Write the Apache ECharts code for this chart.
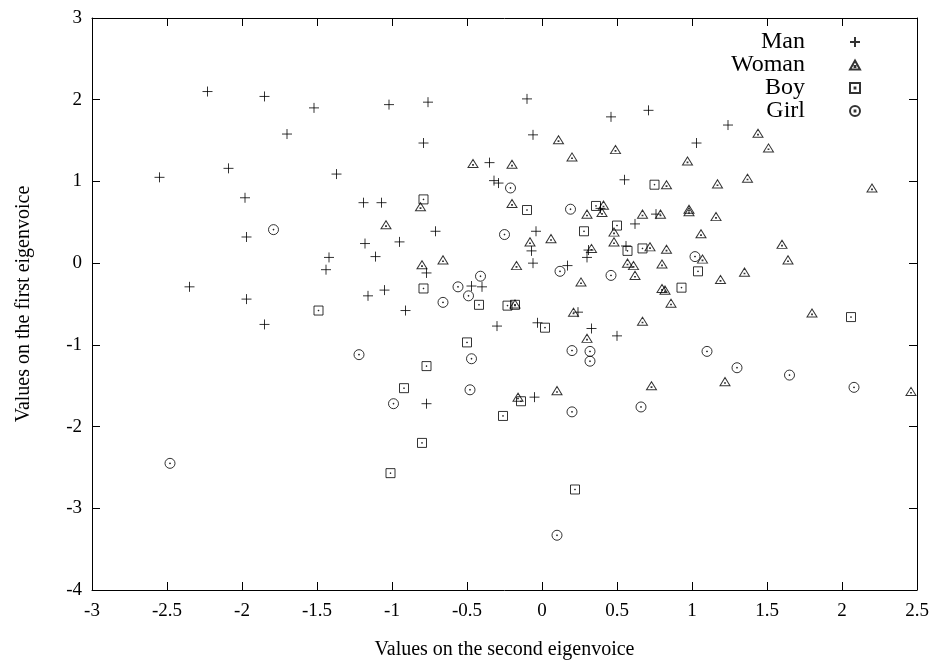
<!DOCTYPE html>
<html>
<head>
<meta charset="utf-8">
<script src="https://cdn.jsdelivr.net/npm/echarts@6/dist/echarts.min.js"></script>
<style>
  html, body { margin: 0; padding: 0; background: #fff; }
  #chart { width: 936px; height: 661px; }
</style>
</head>
<body>
<div id="chart"></div>
<script>
// points as [second eigenvoice, first eigenvoice]
const man = [
  [-2.23, 2.10], [-1.85, 2.04], [-1.52, 1.90], [-1.70, 1.58], [-2.55, 1.05],
  [-2.09, 1.16], [-1.98, 0.80], [-1.37, 1.09], [-1.19, 0.74], [-1.02, 1.94],
  [-0.76, 1.97], [-0.10, 2.01], [-0.79, 1.47], [0.46, 1.79], [-0.06, 1.57],
  [-0.35, 1.23], [-0.32, 1.01], [-0.29, 0.98], [0.55, 1.02], [-1.07, 0.74],
  [0.71, 1.87], [1.24, 1.69], [1.03, 1.47], [-1.97, 0.32], [-1.42, 0.07],
  [-1.44, -0.08], [-1.18, 0.24], [-2.35, -0.29], [-1.97, -0.44], [-1.85, -0.75],
  [-1.16, -0.40], [-0.71, 0.39], [-0.95, 0.26], [-1.11, 0.08], [-0.04, 0.39],
  [0.62, 0.48], [0.56, 0.21], [-0.07, 0.15], [0.31, 0.16], [0.30, 0.07],
  [-0.06, 0.00], [0.17, -0.03], [-0.77, -0.12], [-0.47, -0.28], [-0.40, -0.29],
  [-1.05, -0.33], [-0.91, -0.58], [-0.30, -0.77], [-0.03, -0.73], [0.24, -0.60],
  [0.33, -0.80], [0.50, -0.89], [-0.77, -1.72], [-0.05, -1.64], [0.76, 0.60],
  [0.39, 0.67]
];
const woman = [
  [0.11, 1.51], [0.20, 1.30], [0.49, 1.39], [-0.46, 1.22], [-0.20, 1.21],
  [-0.20, 0.73], [-0.81, 0.69], [0.41, 0.71], [1.44, 1.59], [1.51, 1.41],
  [0.97, 1.25], [0.83, 0.96], [1.17, 0.97], [1.37, 1.04], [2.20, 0.92],
  [0.98, 0.66], [0.30, 0.60], [0.40, 0.62], [-1.04, 0.47], [-0.08, 0.26],
  [0.06, 0.30], [0.48, 0.38], [0.48, 0.26], [0.33, 0.18], [-0.17, -0.03],
  [0.26, -0.23], [0.57, 0.00], [0.61, -0.03], [0.62, -0.15], [-0.80, -0.02],
  [-0.66, 0.04], [-0.18, -0.50], [0.21, -0.60], [0.30, -0.92], [0.67, -0.71],
  [0.10, -1.56], [-0.16, -1.64], [0.67, 0.60], [0.79, 0.60], [0.98, 0.63],
  [1.16, 0.57], [1.06, 0.36], [0.72, 0.20], [0.83, 0.17], [0.80, -0.01],
  [1.07, 0.05], [0.80, -0.31], [0.82, -0.33], [0.86, -0.49], [1.19, -0.20],
  [1.35, -0.11], [1.60, 0.23], [1.64, 0.04], [1.80, -0.61], [0.73, -1.50],
  [1.22, -1.45], [2.46, -1.57]
];
const boy = [
  [-0.79, 0.78], [-0.10, 0.65], [0.36, 0.70], [0.75, 0.96], [-1.49, -0.58],
  [0.28, 0.39], [0.50, 0.46], [0.57, 0.15], [0.67, 0.18], [1.04, -0.10],
  [0.93, -0.30], [-0.79, -0.31], [-0.42, -0.51], [-0.23, -0.52], [-0.18, -0.51],
  [0.02, -0.79], [2.06, -0.66], [-0.50, -0.97], [-0.77, -1.26], [-0.92, -1.53],
  [-0.14, -1.69], [-0.26, -1.87], [-0.80, -2.20], [-1.01, -2.57], [0.22, -2.77]
];
const girl = [
  [-0.21, 0.92], [0.19, 0.66], [-1.79, 0.41], [-1.22, -1.12], [-0.25, 0.35],
  [0.12, -0.10], [0.46, -0.15], [-0.41, -0.16], [-0.56, -0.29], [-0.49, -0.40],
  [-0.66, -0.48], [0.20, -1.07], [0.32, -1.08], [0.32, -1.20], [-0.47, -1.17],
  [-0.48, -1.55], [-0.99, -1.72], [0.20, -1.82], [0.66, -1.76], [0.10, -3.33],
  [-2.48, -2.45], [1.02, 0.08], [1.10, -1.08], [1.30, -1.28], [1.65, -1.37],
  [2.08, -1.52]
];

const xMin = -3, xMax = 2.5, xStep = 0.5;
const yMin = -4, yMax = 3, yStep = 1;

const font = 'Liberation Serif';

// gnuplot style point types (stroked paths)
const plusPath = 'path://M5,0V10M0,5H10';
const triPath = 'path://M5,0L10,9L0,9Z M4.6,5.6h0.8v0.8h-0.8Z';
const boxPath = 'path://M0,0H10V10H0Z M4.6,4.6h0.8v0.8h-0.8Z';
const circPath = 'path://M0,5A5,5 0 1,1 10,5A5,5 0 1,1 0,5Z M4.6,4.6h0.8v0.8h-0.8Z';

const chart = echarts.init(document.getElementById('chart'), null, {renderer: 'canvas'});

const frameLine = {color: '#000', width: 1};

function mkSeries(name, data, symbol, size) {
    return {
        name: name,
        type: 'scatter',
        data: data,
        symbol: symbol,
        symbolSize: size,
        symbolKeepAspect: true,
        itemStyle: {color: 'rgba(0,0,0,0)', borderColor: '#000', borderWidth: 1},
        emphasis: {disabled: true},
        animation: false
    };
}

chart.setOption({
    backgroundColor: '#fff',
    animation: false,
    grid: {left: 92, right: 19, top: 18, bottom: 71, outerBoundsMode: 'none', containLabel: false},
    legend: {
        orient: 'vertical',
        right: 70,
        top: 25,
        align: 'right',
        itemWidth: 10,
        itemHeight: 10,
        itemGap: -1,
        textStyle: {fontFamily: font, fontSize: 24, lineHeight: 22, color: '#000', padding: [0, 40, 0, 0]},
        data: ['Man', 'Woman', 'Boy', 'Girl']
    },
    xAxis: [{
        type: 'value',
        min: xMin, max: xMax, interval: xStep,
        name: 'Values on the second eigenvoice',
        nameLocation: 'middle',
        nameGap: 50,
        nameTextStyle: {fontFamily: font, fontSize: 20, color: '#000'},
        axisLine: {show: true, onZero: false, lineStyle: frameLine},
        axisTick: {inside: true, length: 8, lineStyle: frameLine},
        axisLabel: {fontFamily: font, fontSize: 19, color: '#000', margin: 12},
        splitLine: {show: false}
    }, {
        type: 'value', position: 'top',
        min: xMin, max: xMax, interval: xStep,
        axisLine: {show: true, onZero: false, lineStyle: frameLine},
        axisTick: {inside: true, length: 8, lineStyle: frameLine},
        axisLabel: {show: false},
        splitLine: {show: false}
    }],
    yAxis: [{
        type: 'value',
        min: yMin, max: yMax, interval: yStep,
        name: 'Values on the first eigenvoice',
        nameLocation: 'middle',
        nameGap: 58,
        nameTextStyle: {fontFamily: font, fontSize: 20, color: '#000'},
        axisLine: {show: true, onZero: false, lineStyle: frameLine},
        axisTick: {inside: true, length: 8, lineStyle: frameLine},
        axisLabel: {fontFamily: font, fontSize: 19, color: '#000', margin: 10},
        splitLine: {show: false}
    }, {
        type: 'value', position: 'right',
        min: yMin, max: yMax, interval: yStep,
        axisLine: {show: true, onZero: false, lineStyle: frameLine},
        axisTick: {inside: true, length: 8, lineStyle: frameLine},
        axisLabel: {show: false},
        splitLine: {show: false}
    }],
    series: [
        mkSeries('Man', man, plusPath, 10),
        mkSeries('Woman', woman, triPath, [10, 9]),
        mkSeries('Boy', boy, boxPath, 9),
        mkSeries('Girl', girl, circPath, 10)
    ]
});
</script>
</body>
</html>
